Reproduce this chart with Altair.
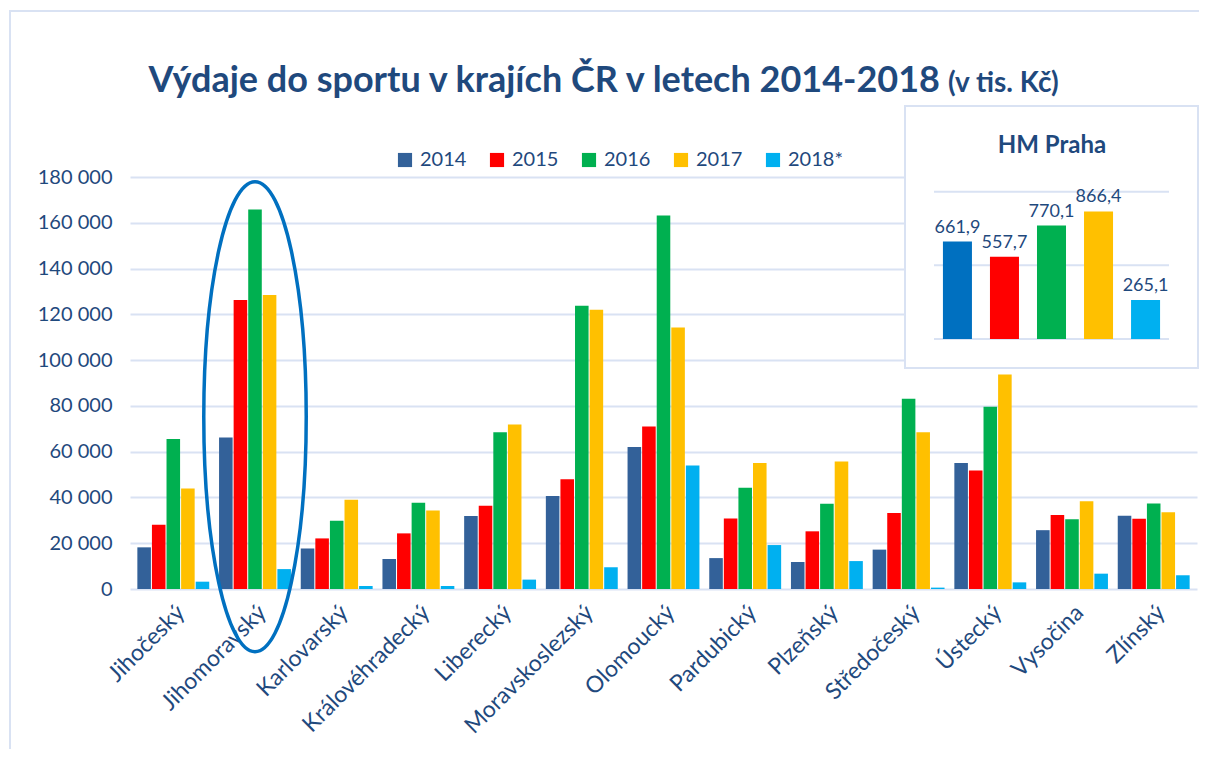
import altair as alt
import pandas as pd

# ---------------- data ----------------
regions = ["Jihočeský", "Jihomoravský", "Karlovarský", "Královéhradecký", "Liberecký",
           "Moravskoslezský", "Olomoucký", "Pardubický", "Plzeňský", "Středočeský",
           "Ústecký", "Vysočina", "Zlínský"]
years = ["2014", "2015", "2016", "2017", "2018*"]
v2014 = [18200, 66200, 17700, 13100, 31900, 40600, 62000, 13500, 11800, 17200, 55100, 25700, 32000]
v2015 = [28100, 126300, 22100, 24300, 36400, 47900, 71000, 30800, 25200, 33200, 51800, 32300, 30700]
v2016 = [65500, 165800, 29800, 37700, 68500, 123800, 163200, 44200, 37200, 83100, 79600, 30500, 37400]
v2017 = [43900, 128400, 39000, 34300, 71900, 122000, 114300, 55000, 55700, 68500, 93700, 38300, 33500]
v2018 = [3200, 8700, 1300, 1300, 4100, 9500, 54000, 19200, 12200, 600, 2900, 6700, 6000]
y_ticks = [0, 20000, 40000, 60000, 80000, 100000, 120000, 140000, 160000, 180000]

praha_values = [661.9, 557.7, 770.1, 866.4, 265.1]
praha_grid = [0, 500, 1000]
highlight_region = ["Jihomoravský"]
highlight_center = [75300]

colors_main = ["#336199", "#FF0000", "#00B050", "#FFC000", "#00B0F0"]
colors_praha = ["#0070C0", "#FF0000", "#00B050", "#FFC000", "#00B0F0"]

title_main = "Výdaje do sportu v krajích ČR v letech 2014-2018"
title_unit = "(v tis. Kč)"
inset_title = "HM Praha"

# ---------------- frames ----------------
rows = []
for yr, vals in zip(years, [v2014, v2015, v2016, v2017, v2018]):
    for r, v in zip(regions, vals):
        rows.append({"kraj": r, "rok": yr, "hodnota": v})
df = pd.DataFrame(rows)

praha_df = pd.DataFrame({"rok": years, "hodnota": praha_values})
praha_df["popisek"] = [f"{v:.1f}".replace(".", ",") for v in praha_values]
grid_df = pd.DataFrame({"g": praha_grid})
ell_df = pd.DataFrame({"kraj": highlight_region, "stred": highlight_center})
one = pd.DataFrame({"a": [0]})

FONT = "Lato"
TEXT = "#1F497D"
GRID = "#D9E2F3"
W, H = 1067, 412

x_scale = alt.Scale(domain=regions, paddingInner=0.12, paddingOuter=0.09)
y_scale = alt.Scale(domain=[0, 180000], nice=False)

bars = alt.Chart(df).mark_bar().encode(
    x=alt.X("kraj:N", sort=regions, title=None, scale=x_scale,
            axis=alt.Axis(labelAngle=-45, labelFontSize=23, labelColor=TEXT, labelFont=FONT,
                          domain=False, ticks=False, grid=False, labelPadding=12)),
    xOffset=alt.XOffset("rok:N", sort=years, scale=alt.Scale(paddingInner=0.07)),
    y=alt.Y("hodnota:Q", scale=y_scale, title=None,
            axis=alt.Axis(values=y_ticks,
                          labelExpr="replace(format(datum.value, ','), ',', ' ')",
                          domain=False, ticks=False, gridColor=GRID, gridWidth=2,
                          labelFontSize=20, labelColor=TEXT, labelFont=FONT, labelPadding=18)),
    color=alt.Color("rok:N", sort=years, scale=alt.Scale(domain=years, range=colors_main),
                    legend=alt.Legend(orient="none", legendX=265, legendY=-27, direction="horizontal",
                                      title=None, symbolType="square", symbolSize=200,
                                      symbolStrokeWidth=0, labelFontSize=20, labelColor=TEXT,
                                      labelFont=FONT, columnPadding=20, labelOffset=5)),
)

ellipse = alt.Chart(ell_df).mark_point(
    shape="M0,-1A0.218,1 0 1,1 0,1A0.218,1 0 1,1 0,-1Z",
    size=220900, filled=False, stroke="#0070C0", strokeWidth=3.5, opacity=1,
).encode(
    x=alt.X("kraj:N", sort=regions, scale=x_scale),
    y=alt.Y("stred:Q", scale=y_scale),
)

main = alt.layer(bars, ellipse)

# ---------------- inset ----------------
ix_scale = alt.Scale(domain=years, range=[804, 1039], paddingInner=0.383, paddingOuter=0.19)
iy_scale = alt.Scale(domain=[0, 1000], range=[162, 14.7], nice=False)

box = alt.Chart(one).mark_rect(fill="white", stroke=GRID, strokeWidth=2).encode(
    x=alt.value(775), x2=alt.value(1068), y=alt.value(-71), y2=alt.value(191))

igrid = alt.Chart(grid_df).mark_rule(color=GRID, strokeWidth=2).encode(
    y=alt.Y("g:Q", scale=iy_scale, axis=None), x=alt.value(804), x2=alt.value(1039))

ibars = alt.Chart(praha_df).mark_bar().encode(
    x=alt.X("rok:N", sort=years, scale=ix_scale, axis=None),
    y=alt.Y("hodnota:Q", scale=iy_scale, axis=None),
    color=alt.Color("rok:N", scale=alt.Scale(domain=years, range=colors_praha), legend=None),
)
ilabels = alt.Chart(praha_df).mark_text(
    font=FONT, fontSize=18, color=TEXT, baseline="alphabetic", dy=-9).encode(
    x=alt.X("rok:N", sort=years, scale=ix_scale, axis=None),
    y=alt.Y("hodnota:Q", scale=iy_scale, axis=None),
    text="popisek:N",
)
ititle = alt.Chart(pd.DataFrame({"t": [inset_title]})).mark_text(
    font=FONT, fontSize=24, fontWeight="bold", color=TEXT, align="center", baseline="alphabetic").encode(
    x=alt.value(922), y=alt.value(-24), text="t:N")

inset = alt.layer(box, igrid, ibars, ilabels, ititle)

# ---------------- titles & frame ----------------
t1 = alt.Chart(pd.DataFrame({"t": [title_main]})).mark_text(
    font=FONT, fontSize=36, fontWeight="bold", color=TEXT, align="right", baseline="alphabetic").encode(
    x=alt.value(810), y=alt.value(-85), text="t:N")
t2 = alt.Chart(pd.DataFrame({"t": [title_unit]})).mark_text(
    font=FONT, fontSize=28, fontWeight="bold", color=TEXT, align="left", baseline="alphabetic").encode(
    x=alt.value(818), y=alt.value(-85), text="t:N")
frame = alt.Chart(one).mark_rect(fill=None, stroke=GRID, strokeWidth=2).encode(
    x=alt.value(-120), x2=alt.value(1090), y=alt.value(-166), y2=alt.value(640))

chart = alt.layer(frame, main, inset, t1, t2).resolve_scale(
    x="independent", y="independent", color="independent"
).properties(
    width=W, height=H,
    padding={"left": 122, "top": 169, "right": 2, "bottom": 160},
    autosize=alt.AutoSizeParams(type="none"),
    background="white",
).configure_view(stroke=None)

chart.save("out.html", embed_options={"renderer": "svg", "actions": False})
